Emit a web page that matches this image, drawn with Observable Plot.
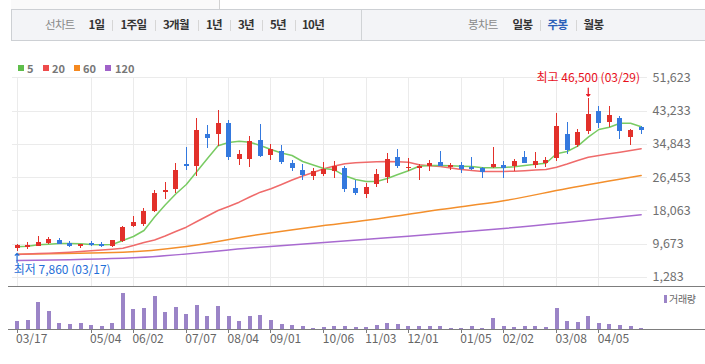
<!DOCTYPE html>
<html><head><meta charset="utf-8">
<script src="https://cdn.jsdelivr.net/npm/d3@7"></script>
<script src="https://cdn.jsdelivr.net/npm/@observablehq/plot@0.6"></script>
<style>
html,body{margin:0;padding:0;background:#fff;}
body{width:705px;height:364px;position:relative;overflow:hidden;font-family:"Noto Sans CJK KR","Noto Sans",sans-serif;}
.abs{position:absolute;}
#toolbar{left:11px;top:9px;width:710px;background:#f3f4f7;border:1px solid #cdd0d4;box-sizing:border-box;height:32px;}
#toptab{left:11px;top:-1px;width:208px;height:10px;border-right:1px solid #d2d2d2;background:#fafafa;}
.tb{position:absolute;top:9px;height:31px;line-height:31px;font-size:11.5px;font-weight:bold;color:#333;letter-spacing:-0.7px;white-space:nowrap;}
.tb.gray{color:#8a8a8a;font-weight:normal;}
.tb.sel{color:#2b5fb8;}
.sep{position:absolute;top:20px;width:1px;height:11px;background:#d6d6d6;}
.div{position:absolute;top:10px;width:1px;height:30px;background:#d0d3d6;}
.lg{position:absolute;top:65px;width:6px;height:6px;}
.lgt{position:absolute;top:60px;height:16px;line-height:16px;font-size:11px;font-weight:bold;color:#777;}
#price{left:0;top:50px;}
#vol{left:0;top:285px;}
</style>
</head><body>
<div id="toptab" class="abs"></div>
<div id="toolbar" class="abs"></div>
<script>
// ---- toolbar labels ----
const lineTabs = ["1일","1주일","3개월","1년","3년","5년","10년"];
const candleTabs = ["일봉","주봉","월봉"];
const selectedTab = "주봉";

// ---- moving average legend ----
const maNames = ["5","20","60","120"];
const maColors = ["#5fbe4b","#ee4b4b","#f5891f","#a062c9"];
const maLineColors = ["#79cb63","#ef6b6b","#f38f2c","#a86ad0"];

// ---- weekly candles (one per week, starting 03/17) ----
const open  = [8670,8950,9100,9860,10610,9930,9100,9780,9680,9170,10360,14140,14640,17850,22790,23390,29770,29340,37330,37330,40110,31110,31110,35820,32040,33050,30020,28260,26820,27250,28010,28760,23720,22210,24730,26490,31540,28840,28760,29190,30270,28940,29520,29090,28760,29010,29520,29270,31540,29520,30020,31360,37330,34560,38170,43130,40430,41370,36650,39100];
const high  = [9530,10030,11620,11290,11120,10280,9700,10360,10110,10610,14140,16660,18600,23220,25160,29950,34060,41370,39600,43380,40860,33300,36830,39850,34740,34560,30780,29770,28760,30270,30530,29270,25740,24980,28510,32540,33550,31280,29700,30780,33050,30020,30270,31610,29010,34060,30530,31030,33050,32800,31540,42630,40360,38590,46500,44390,44390,41870,38590,39350];
const low   = [7860,8420,9050,9680,9650,8920,8670,9170,8920,8920,10180,13810,14220,17590,21020,22380,28330,26820,33880,34380,30850,29520,29090,31540,30850,29770,28010,25740,25740,26750,26240,22710,22030,21200,23970,24980,28760,28010,25740,28010,29200,28330,27500,28260,26240,28760,26240,28080,30000,28760,29010,30530,32290,34130,37330,38850,39170,36150,34640,37410];
const close = [9350,9250,10030,10860,9680,9170,9680,9430,9170,10610,13890,15220,17920,22540,23220,28260,29270,38340,36400,40110,31540,32290,35570,31860,33550,30270,28840,27000,28010,28510,29340,23470,22460,23970,27250,31030,29270,29090,29340,30020,29270,29600,28590,28510,27750,29770,28760,30530,30020,30530,30780,39350,33380,37840,42380,40180,42120,38170,38340,38420];
const volume = [250,280,820,550,190,160,190,130,100,190,1100,610,640,1010,520,670,460,730,400,700,400,250,400,430,280,160,130,100,40,70,100,100,70,70,130,190,160,100,100,100,100,40,40,100,40,340,100,70,100,100,70,640,250,220,400,190,160,130,100,40];

// ---- moving averages ----
const ma5  = [9022,9174,9527,9678,9854,9854,9779,9602,9527,9602,10611,11619,13132,16535,19560,22333,24728,28006,31283,34485,35317,35644,35392,34560,33552,32669,32039,30527,29644,28762,28434,26922,25989,25485,25485,26241,27249,28182,29342,29518,29518,29443,29342,29266,28938,28938,29014,29191,29518,29846,30098,32468,33048,34384,36653,38594,39174,40182,40182,39274];
const ma20 = [7081,7207,7333,7409,7535,7661,7838,8014,8216,8417,8670,9350,10107,10737,11745,12880,13964,15401,16787,18174,19182,20266,21577,22787,23644,24728,25863,26871,27754,28686,29392,29947,30199,30350,30476,30527,30451,30350,29695,29443,29266,28888,28510,28258,28006,28006,28006,28081,28207,28384,28510,29089,29896,30779,31611,32039,32468,32871,33299,33728];
const ma60Week  = [0,10,16,22,28,34,40,46,52,59];
const ma60      = [7157,7636,9098,11745,14014,16031,18426,20619,23720,26997];
const ma120Week = [0,11,23,35,46,59];
const ma120     = [5569,6249,8922,11291,13636,17090];

// ---- axes ----
const yTicks = [1283,9673,18063,26453,34843,43233,51623];
const tickWeeks = [0,7,11,16,20,24,29,33,37,42,46,51,55];
const tickLabels = ["03/17","05/04","06/02","07/07","08/04","09/01","10/06","11/03","12/01","01/05","02/02","03/08","04/05"];

// ---- extremes ----
const hiWeek = 54, hiDate = "03/29";
const loWeek = 0,  loDate = "03/17";

// ---------- HTML chrome ----------
const body = document.body;
function add(cls, text, left, extra){
  const d = document.createElement("div");
  d.className = cls; if (text) d.textContent = text;
  d.style.left = left + "px";
  if (extra) Object.assign(d.style, extra);
  body.appendChild(d); return d;
}
add("tb gray","선차트",45);
const lineX = [88.5,120.5,163,206,238,270,302];
lineTabs.forEach((t,i)=>add("tb"+(t===selectedTab?" sel":""),t,lineX[i]));
[112,155,198,230,262,294.5].forEach(x=>add("sep",null,x));
add("div",null,361);
add("tb gray","봉차트",468);
const candX = [512.5,547.5,583.5];
candleTabs.forEach((t,i)=>add("tb"+(t===selectedTab?" sel":""),t,candX[i]));
[539.5,575.5].forEach(x=>add("sep",null,x));

const lgX = [18.3,43.3,74.3,105], lgTX = [27,52,83,115];
maNames.forEach((n,i)=>{
  add("lg",null,lgX[i],{background:maColors[i]});
  add("lgt",n,lgTX[i]);
});

// ---------- price panel ----------
const fmt = d3.format(",");
const idx = d3.range(open.length);
const ups = idx.filter(i => close[i] >= open[i]);
const downs = idx.filter(i => close[i] < open[i]);
const UP = "#e2302a", DOWN = "#3479de";
const FONT = '"Noto Sans CJK KR","Noto Sans",sans-serif';

const price = Plot.plot({
  width: 705, height: 237,
  marginTop: 27.3, marginBottom: 1, marginLeft: 12, marginRight: 58,
  x: {type: "linear", domain: [-0.4301, 59.6], axis: null},
  y: {domain: [-986, 51623], axis: null},
  style: {background: "transparent", fontFamily: FONT, overflow: "visible"},
  marks: [
    Plot.ruleY(yTicks, {stroke: "#ebebeb", shapeRendering: "crispEdges"}),
    Plot.ruleX(tickWeeks, {stroke: "#ebebeb", shapeRendering: "crispEdges"}),
    Plot.text(yTicks, {y: d => d, frameAnchor: "right", dx: 5, textAnchor: "start", text: d => fmt(d), fill: "#707070", fontSize: 12.5}),
    Plot.line(ma120Week, {x: d => d, y: (d, j) => ma120[j], curve: "monotone-x", stroke: maLineColors[3], strokeWidth: 1.5}),
    Plot.line(ma60Week, {x: d => d, y: (d, j) => ma60[j], curve: "monotone-x", stroke: maLineColors[2], strokeWidth: 1.5}),
    Plot.line(ma20, {x: (d, i) => i, y: d => d, stroke: maLineColors[1], strokeWidth: 1.5}),
    Plot.line(ma5, {x: (d, i) => i, y: d => d, stroke: maLineColors[0], strokeWidth: 1.5}),
    Plot.ruleX(ups, {x: d => d, y1: d => low[d], y2: d => high[d], stroke: UP, strokeWidth: 1, shapeRendering: "crispEdges"}),
    Plot.ruleX(downs, {x: d => d, y1: d => low[d], y2: d => high[d], stroke: DOWN, strokeWidth: 1, shapeRendering: "crispEdges"}),
    Plot.ruleX(ups, {x: d => d, y1: d => open[d], y2: d => close[d], stroke: UP, strokeWidth: 5, shapeRendering: "crispEdges"}),
    Plot.ruleX(downs, {x: d => d, y1: d => open[d], y2: d => close[d], stroke: DOWN, strokeWidth: 5, shapeRendering: "crispEdges"}),
    Plot.text([hiWeek], {x: d => d, y: d => high[d], text: d => `최고 ${fmt(high[d])} (${hiDate})`, dy: -19.5, fill: "#e8101c", fontSize: 12}),
    Plot.vector([hiWeek], {x: d => d, y: d => high[d], length: 8, rotate: 180, anchor: "end", dy: -2, stroke: "#e8101c", strokeWidth: 1.2}),
    Plot.text([loWeek], {x: d => d, y: d => low[d], text: d => `최저 ${fmt(low[d])} (${loDate})`, dy: 18.5, dx: -3.3, textAnchor: "start", fill: "#1f6fd8", fontSize: 12}),
    Plot.vector([loWeek], {x: d => d, y: d => low[d], length: 9, rotate: 0, anchor: "end", dy: 2, stroke: "#1f6fd8", strokeWidth: 1.2})
  ]
});
price.id = "price"; price.classList.add("abs");
body.appendChild(price);

// ---------- volume panel ----------
const vol = Plot.plot({
  width: 705, height: 79,
  marginTop: 1, marginBottom: 34.7, marginLeft: 8, marginRight: 0,
  x: {type: "linear", domain: [-0.8083, 65.083], axis: null},
  y: {domain: [0, 1301], axis: null},
  style: {background: "transparent", fontFamily: FONT, overflow: "visible"},
  marks: [
    Plot.ruleX(volume, {x: (d, i) => i, y1: 0, y2: d => d, stroke: "#9b84c7", strokeWidth: 4, shapeRendering: "crispEdges"}),
    Plot.ruleY([1301], {stroke: "#7d7d7d", shapeRendering: "crispEdges"}),
    Plot.ruleY([0], {stroke: "#7d7d7d", shapeRendering: "crispEdges"}),
    Plot.ruleX(tickWeeks, {x: d => d, stroke: "#7d7d7d", insetTop: 43.3, insetBottom: -4, shapeRendering: "crispEdges"}),
    Plot.text(tickWeeks, {x: d => d, frameAnchor: "bottom", dy: 13.5, dx: -1, textAnchor: "start", text: (d, i) => tickLabels[i], fill: "#666", fontSize: 12})
  ]
});
vol.id = "vol"; vol.classList.add("abs");
body.appendChild(vol);

add("abs",null,664,{top:"295px",width:"3px",height:"8px",background:"#9b84c7"});
add("abs","거래량",669,{top:"291px",lineHeight:"16px",fontSize:"10px",color:"#666",letterSpacing:"-0.3px"});
</script>
</body></html>
